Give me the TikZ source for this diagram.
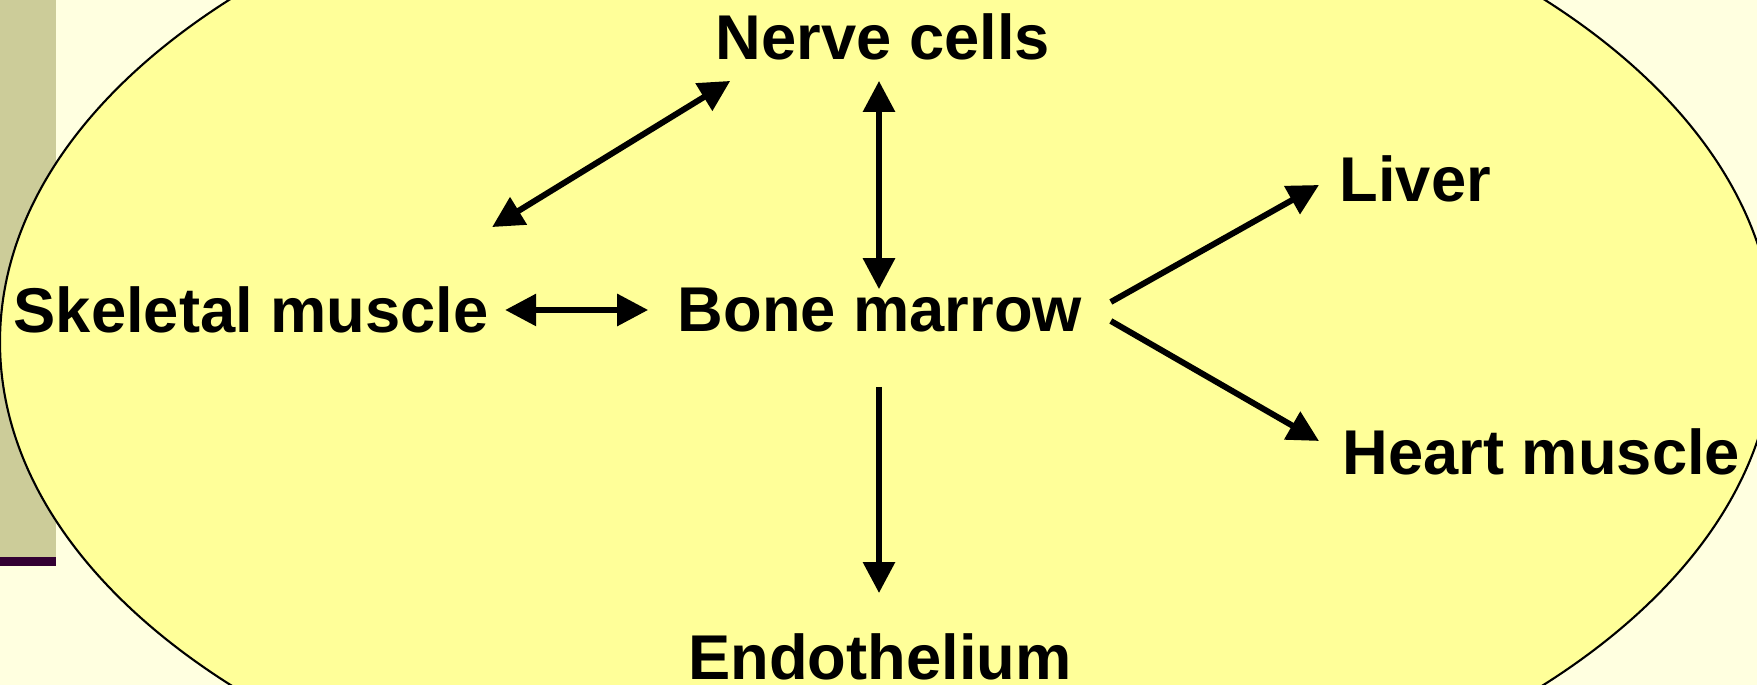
\documentclass[tikz,border=0pt]{standalone}
\usepackage{fontspec}
\setmainfont{Liberation Sans}
\usetikzlibrary{arrows.meta,calc,positioning}
\definecolor{paper}{HTML}{FFFFE0}
\definecolor{blob}{HTML}{FFFF99}
\definecolor{sidebar}{HTML}{CCCC99}
\definecolor{sideline}{HTML}{330033}

\begin{document}
\begin{tikzpicture}[
    organ/.style={font=\fontsize{18}{21}\selectfont\bfseries, inner sep=0pt},
    link/.style={line width=1.7pt, {Triangle[length=0.31cm,width=0.31cm]}-{Triangle[length=0.31cm,width=0.31cm]}},
    oneway/.style={line width=1.7pt, -{Triangle[length=0.31cm,width=0.31cm]}}]
  \useasboundingbox (0,0) rectangle (17.57,6.85);
  \fill[paper] (0,0) rectangle (17.57,6.85);
  \fill[sidebar] (0,1.28) rectangle (0.56,6.85);
  \fill[sideline] (0,1.19) rectangle (0.56,1.28);
  \begin{scope}
    \clip (0,0) rectangle (17.57,6.85);
    \draw[fill=blob, line width=0.6pt] (8.87,3.43) ellipse (8.87 and 5.10);
  \end{scope}

  \node[organ] (bone) at (8.80,3.75) {Bone marrow};
  \node[organ] (nerve) at (8.83,6.48) {Nerve cells};
  \node[organ] (endo) at (8.80,0.28) {Endothelium};
  \node[organ, anchor=west] (skel) at (0.13,3.75) {Skeletal muscle};
  \node[organ, anchor=west] (liver) at (13.39,5.06) {Liver};
  \node[organ, anchor=west] (heart) at (13.42,2.33) {Heart muscle};

  \draw[link, shorten <=0.16cm, shorten >=0.29cm] (skel.east) -- (bone.west);
  \draw[link] ($(skel.north east)+(0.03,0.59)$) -- ($(nerve.south west)+(0.15,-0.20)$);
  \draw[link] ($(bone.north)+(-0.01,-0.02)$) -- ($(bone.north |- nerve.south)+(-0.01,-0.20)$);
  \draw[oneway] ($(bone.south)+(-0.01,-0.54)$) -- ($(endo.north)+(-0.01,0.40)$);
  \draw[oneway] ($(bone.east)+(0.28,0.08)$) -- ($(liver.west)+(-0.20,-0.06)$);
  \draw[oneway] ($(bone.east)+(0.28,-0.11)$) -- ($(heart.west)+(-0.23,0.11)$);
\end{tikzpicture}
\end{document}
